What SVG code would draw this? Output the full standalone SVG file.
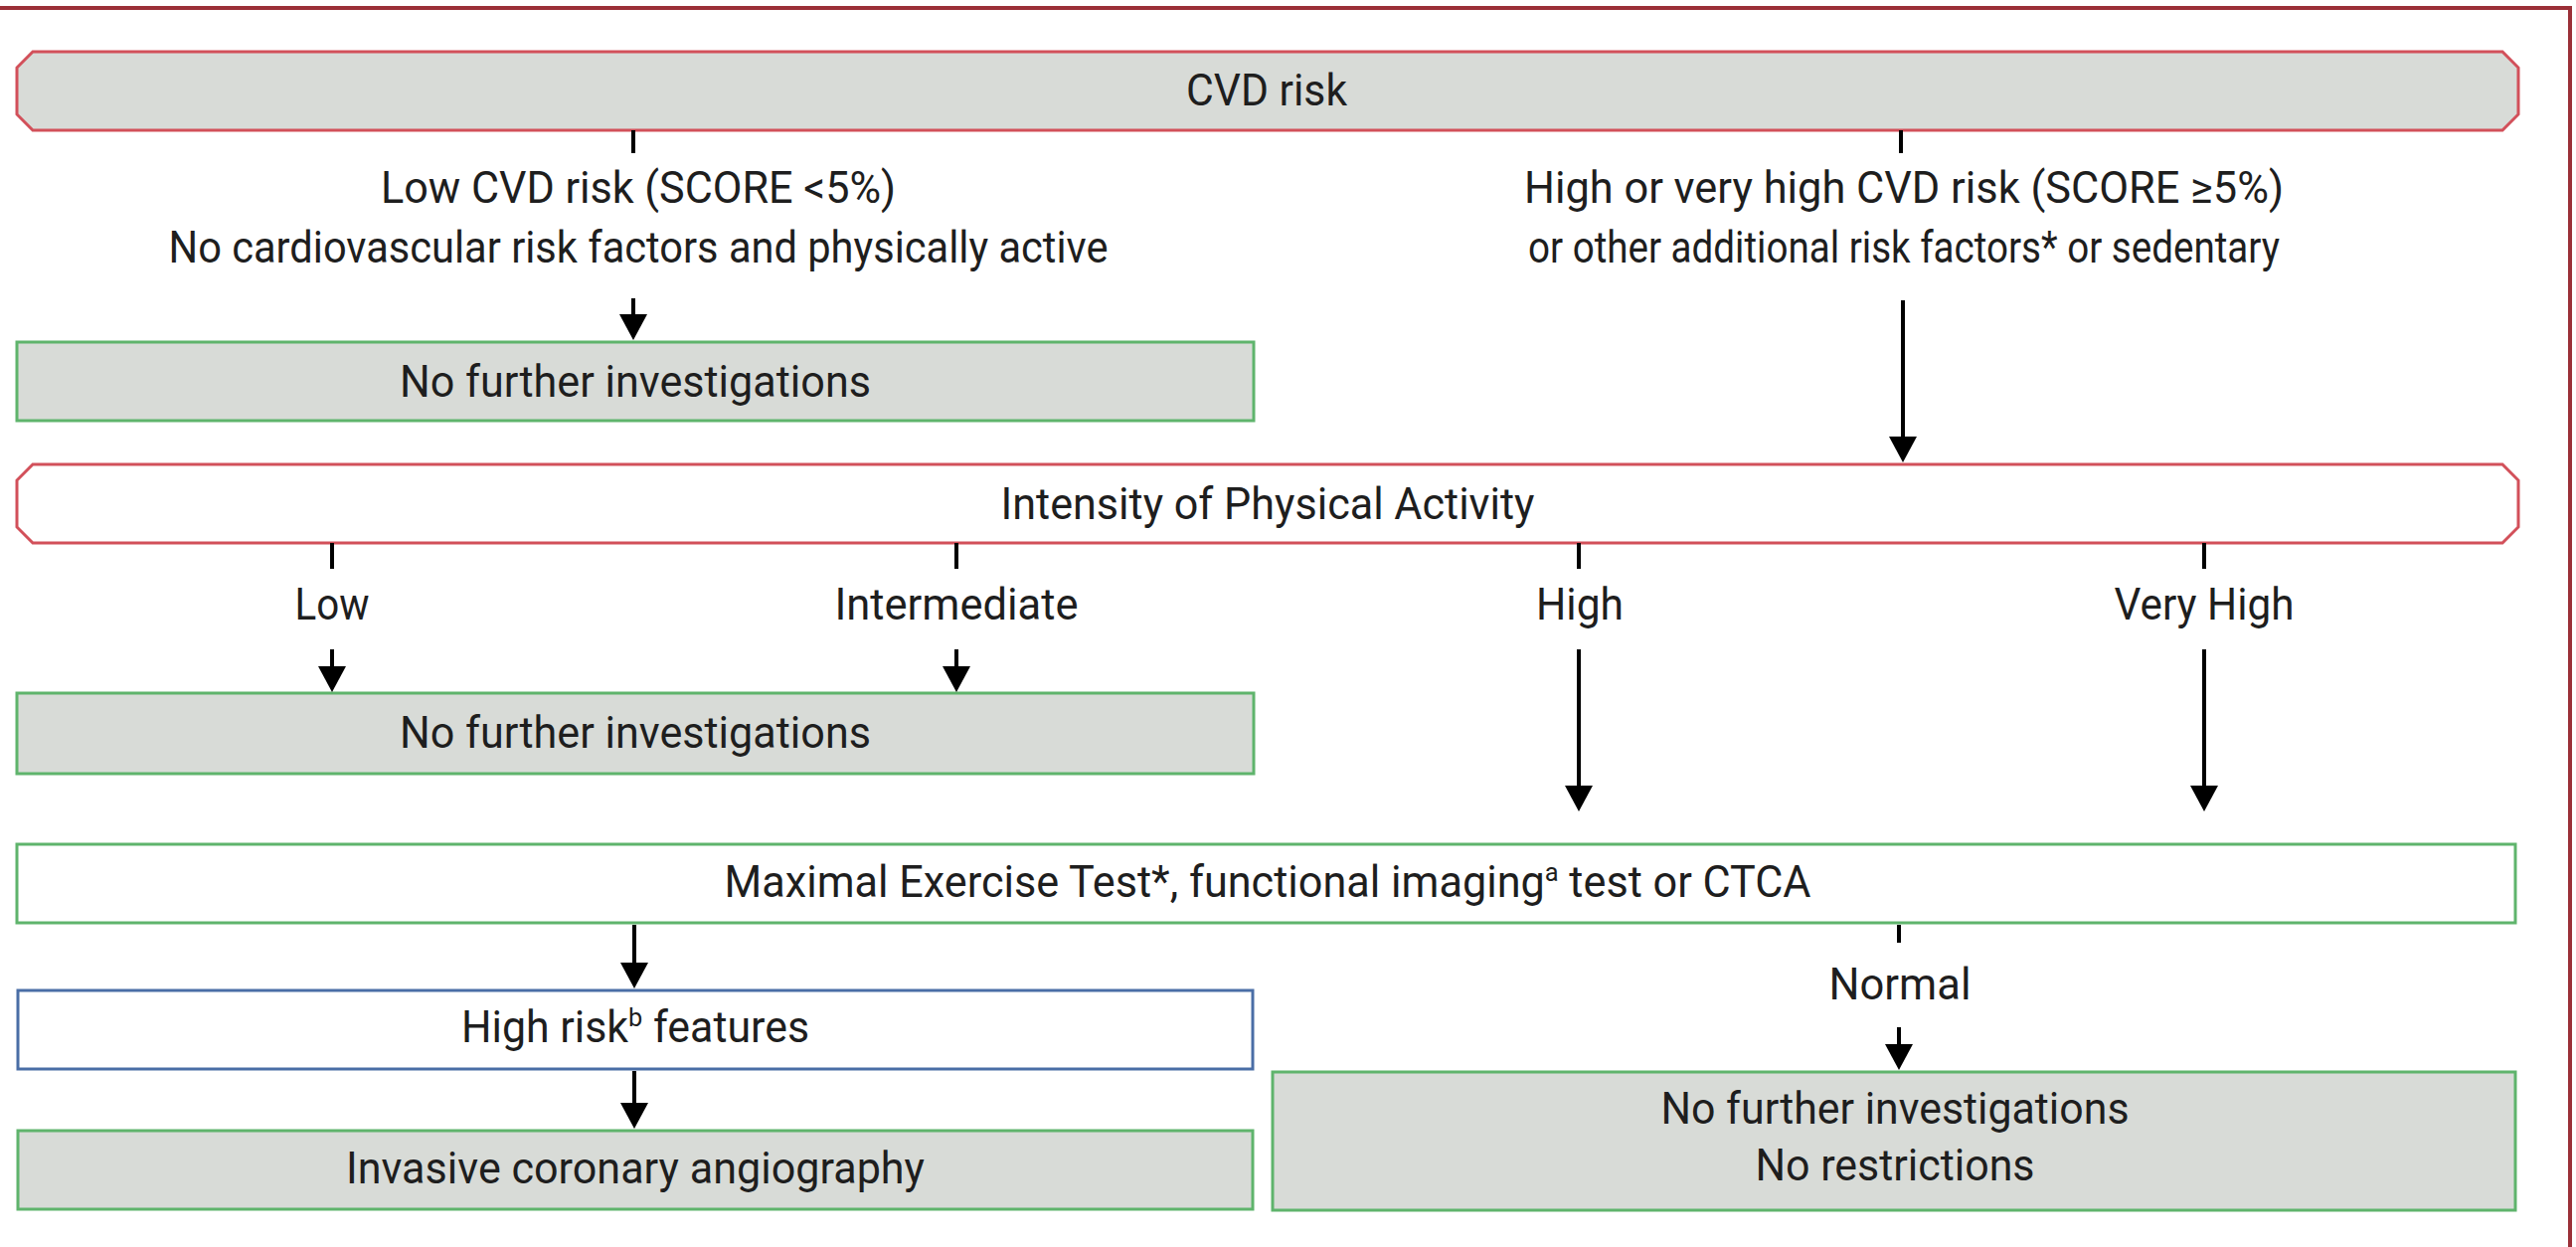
<svg xmlns="http://www.w3.org/2000/svg" width="2591" height="1254" viewBox="0 0 2591 1254">
<style>
.t{font-family:Roboto,"Liberation Sans",sans-serif;font-size:44px;fill:#1e1e1e;text-anchor:middle}
.red{fill:#d8dbd7;stroke:#d2505a;stroke-width:3}
.redw{fill:#ffffff;stroke:#d2505a;stroke-width:3}
.grn{fill:#d8dbd7;stroke:#5fb46c;stroke-width:3}
.grnw{fill:#ffffff;stroke:#5fb46c;stroke-width:3}
.blu{fill:#ffffff;stroke:#4a6ea6;stroke-width:3}
.c{stroke:#000;stroke-width:4;fill:none}
.a{stroke:#000;stroke-width:4;fill:none;marker-end:url(#ah)}
</style>
<defs>
<marker id="ah" markerUnits="userSpaceOnUse" markerWidth="26" markerHeight="28" viewBox="0 0 26 28" refX="6" refY="14" orient="auto">
<path d="M0,0 L26,14 L0,28 Z" fill="#000"/>
</marker>
</defs>
<rect x="-20" y="8" width="2605" height="1300" fill="none" stroke="#9b2f37" stroke-width="4"/>

<g id="cvd-risk">
<path class="red" d="M33,52 L2517,52 L2533,68 L2533,115 L2517,131 L33,131 L17,115 L17,68 Z"/>
<text class="t" x="1274" y="106" textLength="162" lengthAdjust="spacingAndGlyphs">CVD risk</text>
</g>

<g id="low-cvd-label">
<text class="t" x="642" y="204" textLength="518" lengthAdjust="spacingAndGlyphs">Low CVD risk (SCORE &lt;5%)</text>
<text class="t" x="642" y="264" textLength="945" lengthAdjust="spacingAndGlyphs">No cardiovascular risk factors and physically active</text>
</g>

<g id="high-cvd-label">
<text class="t" x="1915" y="204" textLength="764" lengthAdjust="spacingAndGlyphs">High or very high CVD risk (SCORE ≥5%)</text>
<text class="t" x="1915" y="264" textLength="756" lengthAdjust="spacingAndGlyphs">or other additional risk factors* or sedentary</text>
</g>

<g id="no-further-1">
<rect class="grn" x="17" y="344" width="1244" height="79"/>
<text class="t" x="639" y="399" textLength="474" lengthAdjust="spacingAndGlyphs">No further investigations</text>
</g>

<g id="intensity">
<path class="redw" d="M33,467 L2517,467 L2533,483 L2533,530 L2517,546 L33,546 L17,530 L17,483 Z"/>
<text class="t" x="1275" y="522" textLength="537" lengthAdjust="spacingAndGlyphs">Intensity of Physical Activity</text>
</g>

<g id="labels-intensity">
<text class="t" x="334" y="623" textLength="75" lengthAdjust="spacingAndGlyphs">Low</text>
<text class="t" x="962" y="623" textLength="245" lengthAdjust="spacingAndGlyphs">Intermediate</text>
<text class="t" x="1589" y="623" textLength="88" lengthAdjust="spacingAndGlyphs">High</text>
<text class="t" x="2217" y="623" textLength="181" lengthAdjust="spacingAndGlyphs">Very High</text>
</g>

<g id="no-further-2">
<rect class="grn" x="17" y="697" width="1244" height="81"/>
<text class="t" x="639" y="752" textLength="474" lengthAdjust="spacingAndGlyphs">No further investigations</text>
</g>

<g id="max-exercise">
<rect class="grnw" x="17" y="849" width="2513" height="79"/>
<text class="t" x="1275" y="902" textLength="1093" lengthAdjust="spacingAndGlyphs">Maximal Exercise Test*, functional imaging<tspan font-size="26" dy="-16">a</tspan><tspan dy="16"> test or CTCA</tspan></text>
</g>

<g id="normal-label">
<text class="t" x="1911" y="1005" textLength="143" lengthAdjust="spacingAndGlyphs">Normal</text>
</g>

<g id="high-risk">
<rect class="blu" x="18" y="996" width="1242" height="79"/>
<text class="t" x="639" y="1048" textLength="350" lengthAdjust="spacingAndGlyphs">High risk<tspan font-size="26" dy="-16">b</tspan><tspan dy="16"> features</tspan></text>
</g>

<g id="invasive">
<rect class="grn" x="18" y="1137" width="1242" height="79"/>
<text class="t" x="639" y="1190" textLength="582" lengthAdjust="spacingAndGlyphs">Invasive coronary angiography</text>
</g>

<g id="no-further-3">
<rect class="grn" x="1280" y="1078" width="1250" height="139"/>
<text class="t" x="1906" y="1130" textLength="471" lengthAdjust="spacingAndGlyphs">No further investigations</text>
<text class="t" x="1906" y="1187" textLength="281" lengthAdjust="spacingAndGlyphs">No restrictions</text>
</g>

<g id="connectors">
<line class="c" x1="637" y1="131" x2="637" y2="154"/>
<line class="c" x1="1912" y1="131" x2="1912" y2="154"/>
<line class="a" x1="637" y1="300" x2="637" y2="322"/>
<line class="a" x1="1914" y1="302" x2="1914" y2="445"/>
<line class="c" x1="334" y1="546" x2="334" y2="572"/>
<line class="c" x1="962" y1="546" x2="962" y2="572"/>
<line class="c" x1="1588" y1="546" x2="1588" y2="572"/>
<line class="c" x1="2217" y1="546" x2="2217" y2="572"/>
<line class="a" x1="334" y1="653" x2="334" y2="676"/>
<line class="a" x1="962" y1="653" x2="962" y2="676"/>
<line class="a" x1="1588" y1="653" x2="1588" y2="796"/>
<line class="a" x1="2217" y1="653" x2="2217" y2="796"/>
<line class="a" x1="638" y1="930" x2="638" y2="974"/>
<line class="c" x1="1910" y1="930" x2="1910" y2="948"/>
<line class="a" x1="1910" y1="1033" x2="1910" y2="1056"/>
<line class="a" x1="638" y1="1077" x2="638" y2="1115"/>
</g>
</svg>
